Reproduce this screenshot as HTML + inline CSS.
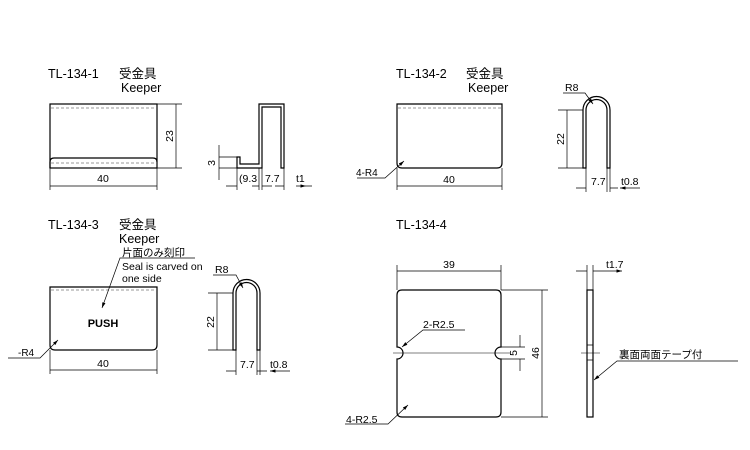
<!DOCTYPE html><html><head><meta charset="utf-8"><style>body{margin:0;background:#fff}svg{display:block}text{font-family:"Liberation Sans","Noto Sans CJK JP",sans-serif;fill:#000}</style></head><body>
<svg width="750" height="450" viewBox="0 0 750 450" xmlns="http://www.w3.org/2000/svg">
<defs><marker id="a" viewBox="0 0 10 6" refX="10" refY="3" markerWidth="8" markerHeight="5" orient="auto-start-reverse"><path d="M0,0L10,3L0,6z" fill="#000"/></marker></defs>
<g font-size="12.5">
<text x="48" y="78">TL-134-1</text><text x="119" y="78">受金具</text><text x="121" y="92">Keeper</text>
<text x="396" y="78">TL-134-2</text><text x="466" y="78">受金具</text><text x="468" y="92">Keeper</text>
<text x="48" y="229">TL-134-3</text><text x="119" y="229">受金具</text><text x="119" y="243">Keeper</text>
<text x="396" y="229">TL-134-4</text>
</g>
<g fill="none" stroke="#000" stroke-width="1.2">
<rect x="50" y="104" width="107" height="64"/>
<path d="M50,168V162Q50,158 54,158H153Q157,158 157,162"/>
<path d="M237,168V157H240V164H259V104H284V168H281V107H262V168Z"/>
<path d="M397,104H502V163Q502,168 497,168H402Q397,168 397,163Z"/>
<path d="M583,168V110A13.5,13.5 0 0 1 610,110V168H607V110A10.5,10.5 0 0 0 586,110V168Z"/>
<path d="M50,287H157V345Q157,350 152,350H55Q50,350 50,345Z"/>
<path d="M233,350V293A13.5,13.5 0 0 1 260,293V350H257V293A10.5,10.5 0 0 0 236,293V350Z"/>
<path d="M402,290H496Q501,290 501,295V347A6,6 0 0 0 501,359V412Q501,417 496,417H402Q397,417 397,412V359A6,6 0 0 0 397,347V295Q397,290 402,290Z"/>
<rect x="587" y="290" width="6" height="127"/>
<path d="M587,345H593M587,360H593" stroke-width="0.8"/>
</g>
<g stroke="#777" stroke-width="0.8" stroke-dasharray="3,2" fill="none">
<path d="M51,108H156M51,163H156M398,108H501M51,290H156"/>
</g>
<g stroke="#000" stroke-width="0.7" fill="none">
<path d="M157,104H182M157,168H182M50,168V190M157,168V190M219,157H237M219,168H237M237,168V190M259,168V190M284,168V190M262,168V190"/>
<path d="M176,104V168M50,186H157M219,145V157M219,180V168M226,186H237M272,186H262M275,186H284M296,186H306" marker-end="url(#a)"/>
<path d="M219,157V168M252,186H259M306,186H312"/>
<path d="M397,168V190M502,168V190M558,110H583M558,168H583M586,168V192M607,168V192M610,168V192"/>
<path d="M567,110V168M397,186H502M576,188H586M618,188H610M640,188H620" marker-end="url(#a)"/>
<path d="M357,178H385L404,161" marker-end="url(#a)"/>
<path d="M563,93H585L593,104" marker-end="url(#a)"/>
<path d="M50,350V374M157,350V374M208,293H233M208,350H233M236,350V375M257,350V375M260,350V375"/>
<path d="M217,293V350M50,370H157M226,371H236M267,371H257M290,371H270" marker-end="url(#a)"/>
<path d="M8,358H40L58,340" marker-end="url(#a)"/>
<path d="M213,275H236L243,288" marker-end="url(#a)"/>
<path d="M195,258H120L102,308" marker-end="url(#a)"/>
<path d="M397,290V265M501,290V265M501,290H548M501,417H548M500,347H525M500,359H525M587,290V265M593,290V265"/>
<path d="M397,271H501M542,290V417M520,335V347M520,371V359M576,271H587M604,271H593M604,271H622" marker-end="url(#a)"/>
<path d="M393,353H510M581,353H600" stroke-width="0.6"/>
<path d="M465,330H423L402,347" marker-end="url(#a)"/>
<path d="M345,424H388L408,405" marker-end="url(#a)"/>
<path d="M738,361H617L594,380" marker-end="url(#a)"/>
</g>
<g font-size="10.5">
<text x="103" y="182" text-anchor="middle">40</text>
<text transform="translate(173,136) rotate(-90)" text-anchor="middle">23</text>
<text transform="translate(215,163) rotate(-90)" text-anchor="middle">3</text>
<text x="239" y="182">(9.3</text><text x="265" y="182">7.7</text><text x="296" y="182">t1</text>
<text x="449" y="183" text-anchor="middle">40</text>
<text x="356" y="176" font-size="10">4-R4</text>
<text x="565" y="91">R8</text>
<text transform="translate(564,139) rotate(-90)" text-anchor="middle">22</text>
<text x="591" y="185">7.7</text><text x="621" y="185">t0.8</text>
<text x="122" y="256">片面のみ刻印</text>
<text x="122" y="270">Seal is carved on</text>
<text x="122" y="282">one side</text>
<text x="103" y="327" text-anchor="middle" font-weight="bold" font-size="11">PUSH</text>
<text x="18" y="356" font-size="10">-R4</text>
<text x="103" y="367" text-anchor="middle">40</text>
<text x="215" y="273">R8</text>
<text transform="translate(214,322) rotate(-90)" text-anchor="middle">22</text>
<text x="240" y="368">7.7</text><text x="270" y="368">t0.8</text>
<text x="449" y="268" text-anchor="middle">39</text>
<text transform="translate(539,353) rotate(-90)" text-anchor="middle">46</text>
<text transform="translate(517,353) rotate(-90)" text-anchor="middle">5</text>
<text x="423" y="328">2-R2.5</text>
<text x="346" y="423">4-R2.5</text>
<text x="606" y="268">t1.7</text>
<text x="619" y="358">裏面両面テープ付</text>
</g>
</svg></body></html>
